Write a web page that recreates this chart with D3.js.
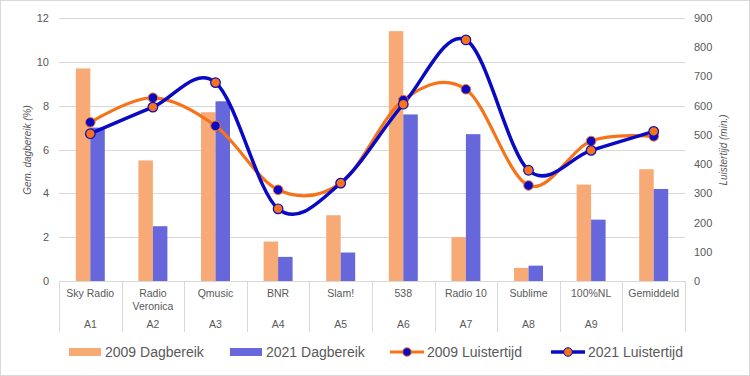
<!DOCTYPE html>
<html><head><meta charset="utf-8">
<script src="https://cdn.jsdelivr.net/npm/d3@7"></script>
<style>
html,body{margin:0;padding:0;background:#fff;}
svg{display:block;font-family:"Liberation Sans",Arial,sans-serif;}
</style></head>
<body><svg id="c" width="750" height="376"></svg>
<script>
const categories = ["Sky Radio","Radio Veronica","Qmusic","BNR","Slam!","538","Radio 10","Sublime","100%NL","Gemiddeld"];
const catLines = [["Sky Radio"],["Radio","Veronica"],["Qmusic"],["BNR"],["Slam!"],["538"],["Radio 10"],["Sublime"],["100%NL"],["Gemiddeld"]];
const codes = ["A1","A2","A3","A4","A5","A6","A7","A8","A9",""];
const dag2009 = [9.7,5.5,7.7,1.8,3.0,11.4,2.0,0.6,4.4,5.1];
const dag2021 = [7.0,2.5,8.2,1.1,1.3,7.6,6.7,0.7,2.8,4.2];
const luister2009 = [543,627,531,312,335,619,656,327,479,495];
const luister2021 = [504,595,679,247,335,605,825,379,447,512];
const leftTicks = [0,2,4,6,8,10,12];
const rightTicks = [0,100,200,300,400,500,600,700,800,900];
const seriesNames = ["2009 Dagbereik","2021 Dagbereik","2009 Luistertijd","2021 Luistertijd"];

const C = {bar09:"#F8AA76", bar21:"#6767DC", line09:"#F7731A", line21:"#0A0AC4", grid:"#D9D9D9", text:"#595959"};

const svg = d3.select("#c");
svg.append("rect").attr("x",0.5).attr("y",0.5).attr("width",749).attr("height",375)
  .attr("fill","#fff").attr("stroke","#D9D9D9").attr("stroke-width",1);

const x0 = 59, x1 = 685, yTop = 18, yBot = 281;
const x = d3.scaleBand().domain(categories).range([x0,x1]);
const yL = d3.scaleLinear().domain([0,12]).range([yBot,yTop]);
const yR = d3.scaleLinear().domain([0,900]).range([yBot,yTop]);
const sub = d3.scaleBand().domain(["2009","2021"]).range([0,x.bandwidth()]).paddingOuter(1.16);

// gridlines
svg.append("g").selectAll("line").data(leftTicks.filter(d=>d>0)).join("line")
  .attr("x1",x0).attr("x2",x1).attr("y1",d=>Math.round(yL(d))+0.5).attr("y2",d=>Math.round(yL(d))+0.5)
  .attr("stroke",C.grid).attr("stroke-width",1);

// left axis
const gl = svg.append("g").attr("transform",`translate(${x0},0)`)
  .call(d3.axisLeft(yL).tickValues(leftTicks).tickSize(0).tickPadding(10));
gl.select(".domain").remove();
gl.selectAll("text").attr("fill",C.text).style("font-size","11px").style("font-family","Liberation Sans, Arial, sans-serif");

// right axis
const gr = svg.append("g").attr("transform",`translate(${x1},0)`)
  .call(d3.axisRight(yR).tickValues(rightTicks).tickSize(0).tickPadding(9));
gr.select(".domain").remove();
gr.selectAll("text").attr("fill",C.text).style("font-size","11px").style("font-family","Liberation Sans, Arial, sans-serif");

// bars
const bars = svg.append("g");
bars.selectAll("rect.b09").data(categories).join("rect").attr("class","b09")
  .attr("x",(d)=>x(d)+sub("2009")).attr("width",sub.bandwidth())
  .attr("y",(d,i)=>yL(dag2009[i])).attr("height",(d,i)=>yBot-yL(dag2009[i])).attr("fill",C.bar09);
bars.selectAll("rect.b21").data(categories).join("rect").attr("class","b21")
  .attr("x",(d)=>x(d)+sub("2021")).attr("width",sub.bandwidth())
  .attr("y",(d,i)=>yL(dag2021[i])).attr("height",(d,i)=>yBot-yL(dag2021[i])).attr("fill",C.bar21);

// category axis
svg.append("line").attr("x1",x0).attr("x2",x1).attr("y1",yBot+0.5).attr("y2",yBot+0.5).attr("stroke",C.grid);
const bounds = categories.map(d=>x(d)).concat([x1]);
svg.append("g").selectAll("line").data(bounds).join("line")
  .attr("x1",d=>Math.round(d)+0.5).attr("x2",d=>Math.round(d)+0.5).attr("y1",yBot).attr("y2",332)
  .attr("stroke",C.grid);
const cx = d=>x(d)+x.bandwidth()/2;
const lab = svg.append("g").attr("fill",C.text).style("font-size","10.5px").attr("text-anchor","middle");
categories.forEach((c,i)=>{
  catLines[i].forEach((t,j)=>{
    lab.append("text").attr("x",cx(c)).attr("y",297+j*12.5).text(t);
  });
  if (codes[i]) lab.append("text").attr("x",cx(c)).attr("y",328).text(codes[i]);
});

// axis titles
svg.append("text").attr("transform","translate(31,150) rotate(-90)").attr("text-anchor","middle")
  .attr("fill",C.text).style("font-size","10px").style("font-style","italic").text("Gem. dagbereik (%)");
svg.append("text").attr("transform","translate(727,150) rotate(-90)").attr("text-anchor","middle")
  .attr("fill",C.text).style("font-size","10px").style("font-style","italic").text("Luistertijd (min.)");

// lines
const line = d3.line().curve(d3.curveCatmullRom.alpha(0));
const pts09 = categories.map((c,i)=>[cx(c), yR(luister2009[i])]);
const pts21 = categories.map((c,i)=>[cx(c), yR(luister2021[i])]);
svg.append("path").attr("d",line(pts09)).attr("fill","none").attr("stroke",C.line09).attr("stroke-width",3.2);
svg.append("path").attr("d",line(pts21)).attr("fill","none").attr("stroke",C.line21).attr("stroke-width",3.5);
svg.append("g").selectAll("circle").data(pts09).join("circle")
  .attr("cx",d=>d[0]).attr("cy",d=>d[1]).attr("r",4.8).attr("fill",C.line21).attr("stroke",C.line09).attr("stroke-width",1);
svg.append("g").selectAll("circle").data(pts21).join("circle")
  .attr("cx",d=>d[0]).attr("cy",d=>d[1]).attr("r",4.8).attr("fill",C.line09).attr("stroke",C.line21).attr("stroke-width",1.2);

// legend
const lg = svg.append("g").style("font-size","14px").attr("fill",C.text);
const ly = 352;
lg.append("rect").attr("x",69).attr("y",ly-4).attr("width",32).attr("height",8).attr("fill",C.bar09);
lg.append("text").attr("x",105).attr("y",ly+5).text(seriesNames[0]);
lg.append("rect").attr("x",230).attr("y",ly-4).attr("width",32).attr("height",8).attr("fill",C.bar21);
lg.append("text").attr("x",266).attr("y",ly+5).text(seriesNames[1]);
lg.append("line").attr("x1",390).attr("x2",424).attr("y1",ly).attr("y2",ly).attr("stroke",C.line09).attr("stroke-width",3.2);
lg.append("circle").attr("cx",407).attr("cy",ly).attr("r",4.3).attr("fill",C.line21).attr("stroke",C.line09);
lg.append("text").attr("x",427).attr("y",ly+5).text(seriesNames[2]);
lg.append("line").attr("x1",551).attr("x2",585).attr("y1",ly).attr("y2",ly).attr("stroke",C.line21).attr("stroke-width",3.5);
lg.append("circle").attr("cx",568).attr("cy",ly).attr("r",4.3).attr("fill",C.line09).attr("stroke",C.line21);
lg.append("text").attr("x",588).attr("y",ly+5).text(seriesNames[3]);
</script></body></html>
